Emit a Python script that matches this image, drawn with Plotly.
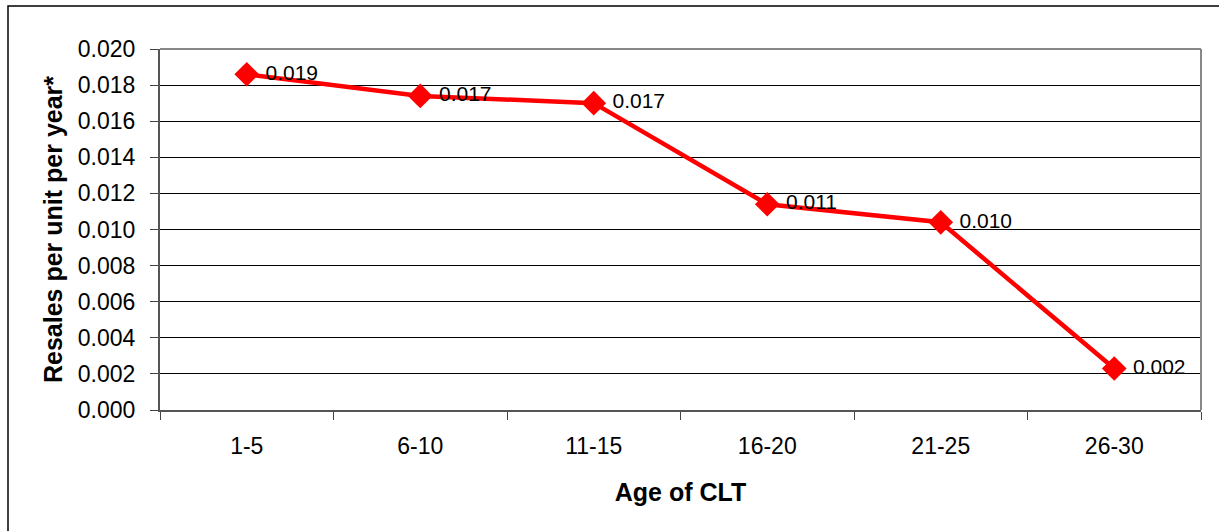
import plotly.graph_objects as go

categories = ["1-5", "6-10", "11-15", "16-20", "21-25", "26-30"]
resales = [0.0186, 0.0174, 0.0170, 0.0114, 0.0104, 0.0023]
y_ticks = [0.000, 0.002, 0.004, 0.006, 0.008, 0.010, 0.012, 0.014, 0.016, 0.018, 0.020]

W, H = 1219, 531
ml, mr, mt, mb = 160, 18, 49, 121
pw, ph = W - ml - mr, H - mt - mb
FONT = "Liberation Sans, Arial"

fig = go.Figure()
fig.add_trace(go.Scatter(
    x=categories, y=resales,
    mode="lines+markers+text",
    line=dict(color="#FF0000", width=4.5),
    marker=dict(symbol="diamond", size=19, color="#FF0000"),
    text=[f" {v:.3f}" for v in resales],
    textposition="middle right",
    textfont=dict(family=FONT, size=21, color="black"),
    cliponaxis=False,
    showlegend=False,
))

fig.update_layout(
    width=W, height=H,
    margin=dict(l=ml, r=mr, t=mt, b=mb),
    paper_bgcolor="white", plot_bgcolor="white",
    font=dict(family=FONT, size=22, color="black"),
    xaxis=dict(
        type="category", tickson="boundaries", ticks="outside", ticklen=8,
        tickcolor="#444", showgrid=False, showline=True, linecolor="#555", linewidth=2,
        range=[-0.5, 5.5], tickfont=dict(size=23), ticklabelstandoff=14,
        title=dict(text="<b>Age of CLT</b>", font=dict(size=25), standoff=26),
    ),
    yaxis=dict(
        range=[0, 0.020], tickvals=y_ticks, ticktext=[f"{v:.3f}" for v in y_ticks],
        ticks="outside", ticklen=8, tickcolor="#444", showgrid=True, gridcolor="black",
        gridwidth=1, showline=True, linecolor="#555", linewidth=2, zeroline=False,
        tickfont=dict(size=23), ticklabelstandoff=10,
        title=dict(text="<b>Resales per unit per year*</b>", font=dict(size=25), standoff=8),
    ),
    shapes=[
        dict(type="line", xref="paper", yref="paper", x0=0, x1=1, y0=1, y1=1,
             line=dict(color="#888", width=2)),
        dict(type="line", xref="paper", yref="paper", x0=1, x1=1, y0=0, y1=1,
             line=dict(color="#888", width=2)),
        dict(type="rect", xref="paper", yref="paper",
             x0=(8 - ml) / pw, x1=(W + 5 - ml) / pw,
             y0=-(H + 5 - mt - ph) / ph, y1=(H - 6 - mb) / ph,
             line=dict(color="black", width=1.5)),
    ],
)

fig.write_html("out.html", config={"displayModeBar": False},
               post_script="document.body.style.margin='0';document.body.style.overflow='hidden';")
